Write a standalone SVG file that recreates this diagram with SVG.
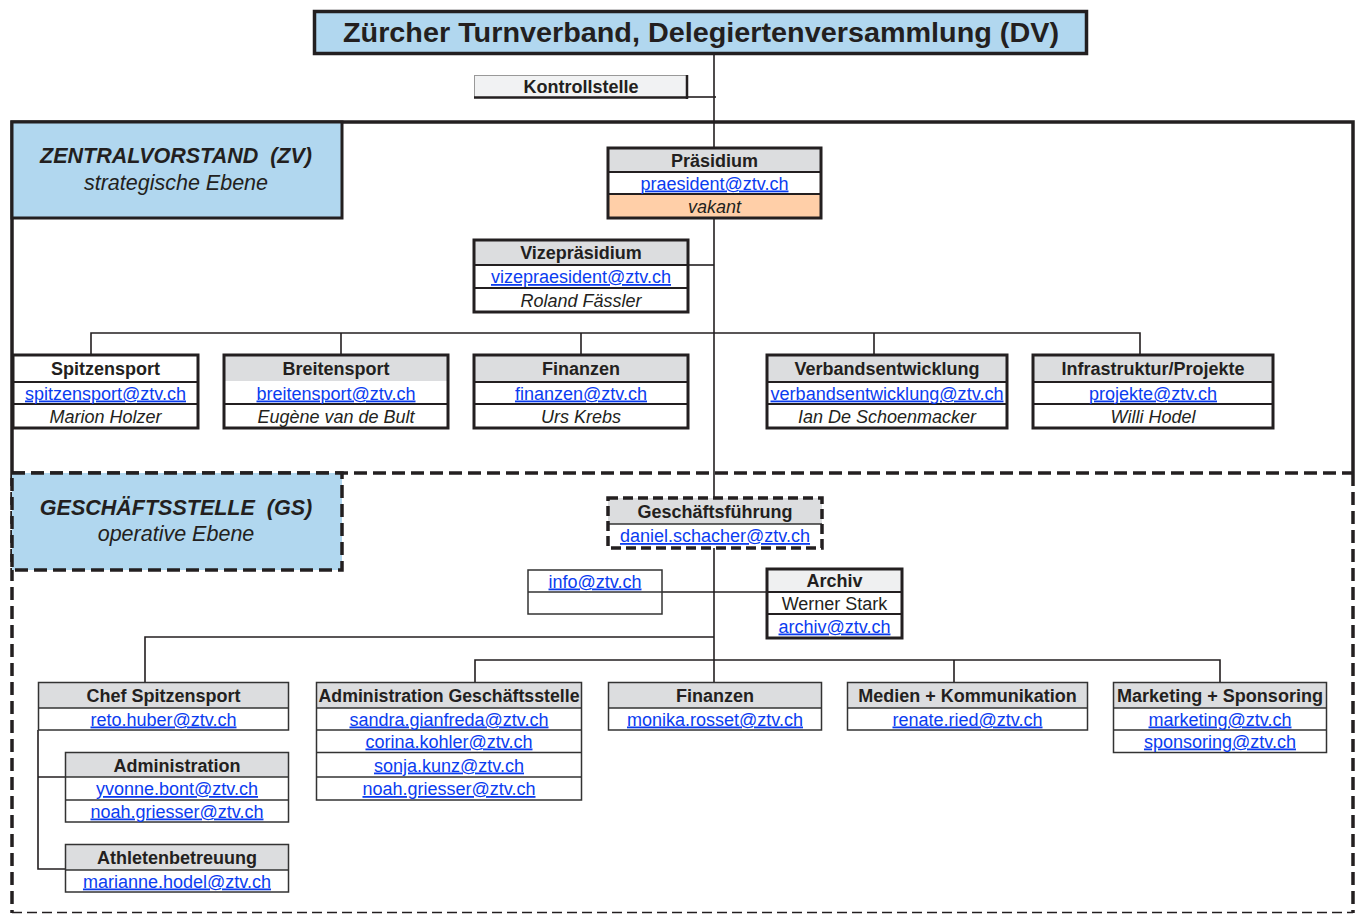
<svg xmlns="http://www.w3.org/2000/svg" width="1356" height="914" viewBox="0 0 1356 914">
<style>
text{font-family:"Liberation Sans",Arial,sans-serif;font-size:18px;fill:#231f20;text-anchor:middle}
.h{font-weight:bold}
.e{fill:#0a3cf0;text-decoration:underline}
.n{font-style:italic}
.thick{fill:none;stroke:#231f20;stroke-width:3}
.thin{fill:none;stroke:#333;stroke-width:1.5}
.sep{stroke:#231f20;stroke-width:2}
.sept{stroke:#333;stroke-width:1.3}
.gray{fill:#dcdddf}
.white{fill:#fff}
.blue{fill:#b1d7ef}
.con{fill:none;stroke:#231f20;stroke-width:1.6}
.lbl{font-size:21.5px;white-space:pre}
</style>
<rect width="1356" height="914" fill="#fff"/>
<g id="frames">
<path d="M12,473 V122 H1353 V473" fill="none" stroke="#231f20" stroke-width="3.5"/>
<line x1="12" y1="473" x2="1353" y2="473" stroke="#231f20" stroke-width="3.5" stroke-dasharray="13 6"/>
<line x1="12" y1="473" x2="12" y2="913" stroke="#231f20" stroke-width="3.5" stroke-dasharray="13 6"/>
<line x1="1353" y1="473" x2="1353" y2="913" stroke="#231f20" stroke-width="3.5" stroke-dasharray="13 6"/>
<line x1="12" y1="912.5" x2="1353" y2="912.5" stroke="#231f20" stroke-width="1.5" stroke-dasharray="10 5"/>
</g>
<g id="connectors">
<line class="con" x1="714" y1="55" x2="714" y2="682"/>
<line class="con" x1="687" y1="97" x2="716" y2="97"/>
<line class="con" x1="688" y1="265" x2="714" y2="265"/>
<path class="con" d="M91,355 V333 H1140 V355 M341,333 V355 M581,333 V355 M874,333 V355"/>
<line class="con" x1="662" y1="592" x2="767" y2="592"/>
<path class="con" d="M145,682 V637 H714"/>
<path class="con" d="M475,682 V660 H1220 V682 M954,660 V682"/>
<path class="con" d="M38,730 V869 H65 M38,777 H65"/>
</g>
<g id="dv">
<rect x="314.5" y="11.5" width="772" height="42" class="blue" stroke="#231f20" stroke-width="3.5"/>
<text x="701" y="42" class="h" style="font-size:27px" textLength="716" lengthAdjust="spacingAndGlyphs">Zürcher Turnverband, Delegiertenversammlung (DV)</text>
</g>
<g id="kontrollstelle">
<rect x="474.5" y="75.5" width="212" height="22" fill="#f1f2f3" stroke="#999" stroke-width="1"/>
<path d="M687,75 V99 M474,97.5 H688" fill="none" stroke="#231f20" stroke-width="2.5"/>
<text x="581" y="93" class="h">Kontrollstelle</text>
</g>
<g id="zv-label">
<rect x="12" y="122" width="330" height="96" class="blue" stroke="#231f20" stroke-width="3"/>
<text x="176" y="163" class="h n lbl" xml:space="preserve">ZENTRALVORSTAND  (ZV)</text>
<text x="176" y="190" class="n lbl">strategische Ebene</text>
</g>
<g id="gs-label">
<rect x="12" y="473" width="330" height="97" class="blue" stroke="#231f20" stroke-width="3.5" stroke-dasharray="13 6"/>
<text x="176" y="515" class="h n lbl" xml:space="preserve">GESCHÄFTSSTELLE  (GS)</text>
<text x="176" y="541" class="n lbl">operative Ebene</text>
</g>
<g id="praesidium">
<rect x="608" y="148" width="213" height="24" class="gray"/>
<rect x="608" y="172" width="213" height="22" class="white"/>
<rect x="608" y="194" width="213" height="24" fill="#ffcfa8"/>
<line class="sep" x1="608" y1="172" x2="821" y2="172"/>
<line class="sep" x1="608" y1="194" x2="821" y2="194"/>
<rect x="608" y="148" width="213" height="70" class="thick"/>
<text x="714.5" y="166.5" class="h">Präsidium</text>
<text x="714.5" y="189.5" class="e">praesident@ztv.ch</text>
<text x="714.5" y="212.5" class="n">vakant</text>
</g>
<g id="vizepraesidium">
<rect x="474" y="240" width="214" height="25" class="gray"/>
<rect x="474" y="265" width="214" height="47" class="white"/>
<line class="sep" x1="474" y1="265" x2="688" y2="265"/>
<line class="sep" x1="474" y1="288" x2="688" y2="288"/>
<rect x="474" y="240" width="214" height="72" class="thick"/>
<text x="581" y="259" class="h">Vizepräsidium</text>
<text x="581" y="283" class="e">vizepraesident@ztv.ch</text>
<text x="581" y="306.5" class="n">Roland Fässler</text>
</g>
<g id="spitzensport">
<rect x="13" y="355" width="185" height="73" class="white"/>
<line class="sep" x1="13" y1="382" x2="198" y2="382"/>
<line class="sep" x1="13" y1="404" x2="198" y2="404"/>
<rect x="13" y="355" width="185" height="73" class="thick"/>
<text x="105.5" y="375" class="h">Spitzensport</text>
<text x="105.5" y="399.5" class="e">spitzensport@ztv.ch</text>
<text x="105.5" y="422.5" class="n">Marion Holzer</text>
</g>
<g id="breitensport">
<rect x="224" y="355" width="224" height="73" class="white"/>
<rect x="224" y="355" width="224" height="26" class="gray"/>
<line class="sep" x1="224" y1="404" x2="448" y2="404"/>
<rect x="224" y="355" width="224" height="73" class="thick"/>
<text x="336" y="375" class="h">Breitensport</text>
<text x="336" y="399.5" class="e">breitensport@ztv.ch</text>
<text x="336" y="422.5" class="n">Eugène van de Bult</text>
</g>
<g id="finanzen-zv">
<rect x="474" y="355" width="214" height="73" class="white"/>
<rect x="474" y="355" width="214" height="27" class="gray"/>
<line class="sep" x1="474" y1="382" x2="688" y2="382"/>
<line class="sep" x1="474" y1="404" x2="688" y2="404"/>
<rect x="474" y="355" width="214" height="73" class="thick"/>
<text x="581" y="375" class="h">Finanzen</text>
<text x="581" y="399.5" class="e">finanzen@ztv.ch</text>
<text x="581" y="422.5" class="n">Urs Krebs</text>
</g>
<g id="verbandsentwicklung">
<rect x="767" y="355" width="240" height="73" class="white"/>
<rect x="767" y="355" width="240" height="27" class="gray"/>
<line class="sep" x1="767" y1="382" x2="1007" y2="382"/>
<line class="sep" x1="767" y1="404" x2="1007" y2="404"/>
<rect x="767" y="355" width="240" height="73" class="thick"/>
<text x="887" y="375" class="h">Verbandsentwicklung</text>
<text x="887" y="399.5" class="e" textLength="233" lengthAdjust="spacingAndGlyphs">verbandsentwicklung@ztv.ch</text>
<text x="887" y="422.5" class="n">Ian De Schoenmacker</text>
</g>
<g id="infrastruktur">
<rect x="1033" y="355" width="240" height="73" class="white"/>
<rect x="1033" y="355" width="240" height="27" class="gray"/>
<line class="sep" x1="1033" y1="382" x2="1273" y2="382"/>
<line class="sep" x1="1033" y1="404" x2="1273" y2="404"/>
<rect x="1033" y="355" width="240" height="73" class="thick"/>
<text x="1153" y="375" class="h">Infrastruktur/Projekte</text>
<text x="1153" y="399.5" class="e">projekte@ztv.ch</text>
<text x="1153" y="422.5" class="n">Willi Hodel</text>
</g>
<g id="geschaeftsfuehrung">
<rect x="608" y="498" width="214" height="50" class="white"/>
<rect x="608" y="498" width="214" height="26" class="gray"/>
<line class="sept" x1="608" y1="524" x2="822" y2="524"/>
<rect x="608" y="498" width="214" height="50" fill="none" stroke="#231f20" stroke-width="3.5" stroke-dasharray="10 5"/>
<text x="715" y="517.5" class="h">Geschäftsführung</text>
<text x="715" y="542" class="e">daniel.schacher@ztv.ch</text>
</g>
<g id="info">
<rect x="528" y="570" width="134" height="44" class="white"/>
<line class="sept" x1="528" y1="592" x2="662" y2="592"/>
<rect x="528" y="570" width="134" height="44" class="thin"/>
<text x="595" y="587.5" class="e">info@ztv.ch</text>
</g>
<g id="archiv">
<rect x="767" y="569" width="135" height="69" class="white"/>
<rect x="767" y="569" width="135" height="23" fill="#eff0f1"/>
<line class="sep" x1="767" y1="592" x2="902" y2="592"/>
<line class="sep" x1="767" y1="614" x2="902" y2="614"/>
<rect x="767" y="569" width="135" height="69" class="thick"/>
<text x="834.5" y="587" class="h">Archiv</text>
<text x="834.5" y="609.5">Werner Stark</text>
<text x="834.5" y="632.5" class="e">archiv@ztv.ch</text>
</g>
<g id="chef-spitzensport">
<rect x="38.5" y="682.5" width="250" height="25.5" class="gray"/>
<rect x="38.5" y="708" width="250" height="22" class="white"/>
<line class="sept" x1="38.5" y1="708" x2="288.5" y2="708"/>
<rect x="38.5" y="682.5" width="250" height="47.5" class="thin"/>
<text x="163.5" y="701.5" class="h">Chef Spitzensport</text>
<text x="163.5" y="725.5" class="e">reto.huber@ztv.ch</text>
</g>
<g id="administration">
<rect x="65.5" y="752.5" width="223" height="24.5" class="gray"/>
<rect x="65.5" y="777" width="223" height="45" class="white"/>
<line class="sept" x1="65.5" y1="777" x2="288.5" y2="777"/>
<line class="sept" x1="65.5" y1="800" x2="288.5" y2="800"/>
<rect x="65.5" y="752.5" width="223" height="69.5" class="thin"/>
<text x="177" y="771.5" class="h">Administration</text>
<text x="177" y="795" class="e">yvonne.bont@ztv.ch</text>
<text x="177" y="817.5" class="e">noah.griesser@ztv.ch</text>
</g>
<g id="athletenbetreuung">
<rect x="65.5" y="844.5" width="223" height="25.5" class="gray"/>
<rect x="65.5" y="870" width="223" height="22" class="white"/>
<line class="sept" x1="65.5" y1="870" x2="288.5" y2="870"/>
<rect x="65.5" y="844.5" width="223" height="47.5" class="thin"/>
<text x="177" y="863.5" class="h">Athletenbetreuung</text>
<text x="177" y="887.5" class="e">marianne.hodel@ztv.ch</text>
</g>
<g id="administration-gs">
<rect x="316.5" y="682.5" width="265" height="25.5" class="gray"/>
<rect x="316.5" y="708" width="265" height="92" class="white"/>
<line class="sept" x1="316.5" y1="708" x2="581.5" y2="708"/>
<line class="sept" x1="316.5" y1="730" x2="581.5" y2="730"/>
<line class="sept" x1="316.5" y1="752.5" x2="581.5" y2="752.5"/>
<line class="sept" x1="316.5" y1="777" x2="581.5" y2="777"/>
<rect x="316.5" y="682.5" width="265" height="117.5" class="thin"/>
<text x="449" y="701.5" class="h" textLength="261" lengthAdjust="spacingAndGlyphs">Administration Geschäftsstelle</text>
<text x="449" y="725.5" class="e">sandra.gianfreda@ztv.ch</text>
<text x="449" y="747.5" class="e">corina.kohler@ztv.ch</text>
<text x="449" y="771.5" class="e">sonja.kunz@ztv.ch</text>
<text x="449" y="795" class="e">noah.griesser@ztv.ch</text>
</g>
<g id="finanzen-gs">
<rect x="608.5" y="682.5" width="213" height="25.5" class="gray"/>
<rect x="608.5" y="708" width="213" height="22" class="white"/>
<line class="sept" x1="608.5" y1="708" x2="821.5" y2="708"/>
<rect x="608.5" y="682.5" width="213" height="47.5" class="thin"/>
<text x="715" y="701.5" class="h">Finanzen</text>
<text x="715" y="725.5" class="e">monika.rosset@ztv.ch</text>
</g>
<g id="medien">
<rect x="847.5" y="682.5" width="240" height="25.5" class="gray"/>
<rect x="847.5" y="708" width="240" height="22" class="white"/>
<line class="sept" x1="847.5" y1="708" x2="1087.5" y2="708"/>
<rect x="847.5" y="682.5" width="240" height="47.5" class="thin"/>
<text x="967.5" y="701.5" class="h">Medien + Kommunikation</text>
<text x="967.5" y="725.5" class="e">renate.ried@ztv.ch</text>
</g>
<g id="marketing">
<rect x="1113.5" y="682.5" width="213" height="25.5" class="gray"/>
<rect x="1113.5" y="708" width="213" height="44.5" class="white"/>
<line class="sept" x1="1113.5" y1="708" x2="1326.5" y2="708"/>
<line class="sept" x1="1113.5" y1="730" x2="1326.5" y2="730"/>
<rect x="1113.5" y="682.5" width="213" height="70" class="thin"/>
<text x="1220" y="701.5" class="h" textLength="206" lengthAdjust="spacingAndGlyphs">Marketing + Sponsoring</text>
<text x="1220" y="725.5" class="e">marketing@ztv.ch</text>
<text x="1220" y="747.5" class="e">sponsoring@ztv.ch</text>
</g>
</svg>
